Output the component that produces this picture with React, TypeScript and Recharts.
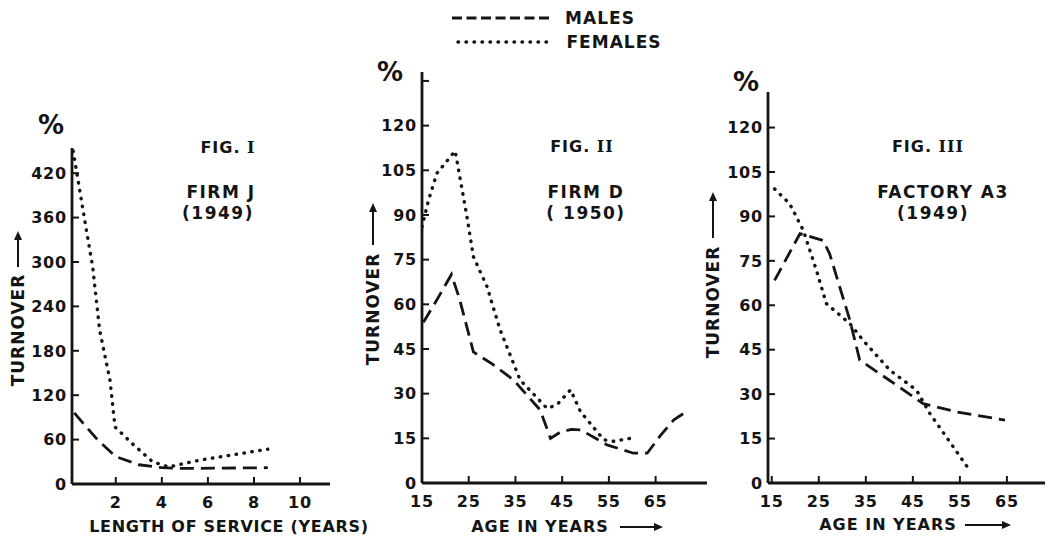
import React from 'react';
import { LineChart, Line, XAxis, YAxis } from 'recharts';

const INK = '#141414';
const FONT = '"DejaVu Sans", sans-serif';
const DASH = '14 7';
const DOTS = '0.5 7.5';

// Fig. I — Firm J (1949), turnover % by length of service (years)
const fig1Males = [
  { x: 0.2, y: 96 }, { x: 1.2, y: 60 }, { x: 2.0, y: 37 }, { x: 3.0, y: 26 },
  { x: 4.0, y: 22 }, { x: 4.8, y: 21 }, { x: 8.6, y: 22 },
];
const fig1Females = [
  { x: 0.15, y: 450 }, { x: 0.6, y: 366 }, { x: 1.0, y: 293 }, { x: 1.3, y: 208 },
  { x: 1.75, y: 140 }, { x: 1.97, y: 77 }, { x: 2.7, y: 55 }, { x: 3.6, y: 30 },
  { x: 4.3, y: 23 }, { x: 5.6, y: 32 }, { x: 7.0, y: 39 }, { x: 8.6, y: 47 },
];
const fig1XTicks = [2, 4, 6, 8, 10];
const fig1YTicks = [0, 60, 120, 180, 240, 300, 360, 420];

// Fig. II — Firm D (1950), turnover % by age
const fig2Males = [
  { x: 15.3, y: 54 }, { x: 18, y: 61 }, { x: 21.3, y: 70 }, { x: 23, y: 62 },
  { x: 26, y: 44 }, { x: 30, y: 40 }, { x: 34.6, y: 34.6 }, { x: 40.3, y: 24.5 },
  { x: 42.5, y: 15 }, { x: 44.5, y: 17 }, { x: 47, y: 18 }, { x: 49, y: 17.8 },
  { x: 54.6, y: 12.8 }, { x: 60.3, y: 10 }, { x: 63.2, y: 10 }, { x: 66.1, y: 16.1 },
  { x: 68.9, y: 21.2 }, { x: 72.1, y: 24.5 },
];
const fig2Females = [
  { x: 15, y: 86 }, { x: 16.4, y: 95 }, { x: 18.2, y: 104 }, { x: 22.1, y: 111.5 },
  { x: 24.6, y: 89.6 }, { x: 26, y: 76 }, { x: 28.9, y: 66 }, { x: 31.7, y: 51.5 },
  { x: 36, y: 34.6 }, { x: 41.8, y: 25 }, { x: 43.9, y: 26.3 }, { x: 46.8, y: 31.3 },
  { x: 48.9, y: 24 }, { x: 53.9, y: 14.5 }, { x: 56, y: 14 }, { x: 59.6, y: 15 },
];

// Fig. III — Factory A3 (1949), turnover % by age
const fig3Males = [
  { x: 15.6, y: 68.4 }, { x: 21, y: 84.2 }, { x: 25.9, y: 81.9 }, { x: 27.3, y: 77.4 },
  { x: 31.6, y: 55 }, { x: 33.7, y: 41.5 }, { x: 40.1, y: 34.6 }, { x: 47.2, y: 26.8 },
  { x: 54.3, y: 24 }, { x: 64.6, y: 21.2 },
];
const fig3Females = [
  { x: 15.6, y: 99.3 }, { x: 18.8, y: 94.3 }, { x: 21.7, y: 85.3 }, { x: 24.5, y: 71.8 },
  { x: 26.6, y: 60.6 }, { x: 31.6, y: 53.8 }, { x: 34.4, y: 48.2 }, { x: 40.1, y: 38.1 },
  { x: 45.8, y: 31.3 }, { x: 48.6, y: 23.5 }, { x: 53.6, y: 12.2 }, { x: 56.8, y: 4.9 },
];

const ageXTicks = [15, 25, 35, 45, 55, 65];
const ageYTicks = [0, 15, 30, 45, 60, 75, 90, 105, 120];

const tickText = { fill: INK, fontFamily: FONT, fontWeight: 700, fontSize: 16, letterSpacing: 0.8 };

const YTick = (props: any) => {
  const { x, y, payload, maxLabel } = props;
  return (
    <g>
      <line x1={x} x2={x + 7} y1={y} y2={y} stroke={INK} strokeWidth={2} />
      {payload.value <= maxLabel && (
        <text x={x - 5} y={y} dy="0.36em" textAnchor="end" style={tickText}>{payload.value}</text>
      )}
    </g>
  );
};

const XTick = (props: any) => {
  const { x, y, payload } = props;
  return (
    <g>
      <line x1={x} x2={x} y1={y} y2={y - 7} stroke={INK} strokeWidth={2} />
      <text x={x} y={y + 18} dy="0.36em" textAnchor="middle" style={tickText}>{payload.value}</text>
    </g>
  );
};

interface PanelProps {
  left: number; width: number; top: number; bottom: number; axisW: number; right: number;
  xDomain: [number, number]; yDomain: [number, number];
  xTicks: number[]; yTicks: number[]; maxLabel: number;
  males: { x: number; y: number }[]; females: { x: number; y: number }[];
}

const Panel = (p: PanelProps) => (
  <div style={{ position: 'absolute', left: p.left, top: 0 }}>
    <LineChart width={p.width} height={536} margin={{ top: p.top, bottom: p.bottom - 30, left: 0, right: p.right }}>
      <XAxis type="number" dataKey="x" domain={p.xDomain} ticks={p.xTicks} interval={0} height={30}
        tickSize={0} tickMargin={0} tickLine={false} axisLine={{ stroke: INK, strokeWidth: 2.8 }}
        tick={(t: any) => <XTick {...t} />} allowDataOverflow />
      <YAxis type="number" dataKey="y" domain={p.yDomain} ticks={p.yTicks} interval={0} width={p.axisW}
        tickSize={0} tickMargin={0} tickLine={false} axisLine={{ stroke: INK, strokeWidth: 2.8 }}
        tick={(t: any) => <YTick {...t} maxLabel={p.maxLabel} />} allowDataOverflow />
      <Line data={p.males} dataKey="y" type="linear" stroke={INK} strokeWidth={2.8}
        strokeDasharray={DASH} dot={false} activeDot={false} isAnimationActive={false} />
      <Line data={p.females} dataKey="y" type="linear" stroke={INK} strokeWidth={3.4}
        strokeDasharray={DOTS} strokeLinecap="round" dot={false} activeDot={false} isAnimationActive={false} />
    </LineChart>
  </div>
);

const Label = ({ x, y, size = 16, rotate = 0, spacing = 1, children }: any) => (
  <div style={{
    position: 'absolute', left: x, top: y, transform: `translate(-50%, -50%) rotate(${rotate}deg)`,
    fontFamily: FONT, fontWeight: 700, fontSize: size, letterSpacing: spacing, color: INK,
    whiteSpace: 'nowrap', lineHeight: 1,
  }}>{children}</div>
);

const Numeral = ({ children }: any) => (
  <span style={{ fontFamily: '"DejaVu Serif", serif', fontWeight: 700 }}>{children}</span>
);

const Arrow = ({ x1, y1, x2, y2 }: { x1: number; y1: number; x2: number; y2: number }) => {
  const a = Math.atan2(y2 - y1, x2 - x1);
  const h = 9, w = 4;
  const bx = x2 - h * Math.cos(a), by = y2 - h * Math.sin(a);
  const px = -Math.sin(a) * w, py = Math.cos(a) * w;
  return (
    <g>
      <line x1={x1} y1={y1} x2={bx} y2={by} stroke={INK} strokeWidth={2} />
      <polygon points={`${x2},${y2} ${bx + px},${by + py} ${bx - px},${by - py}`} fill={INK} />
    </g>
  );
};

export default function App() {
  return (
    <div style={{ position: 'absolute', left: 0, top: 0, width: 1050, height: 536, background: '#fff', overflow: 'hidden' }}>
      <Panel left={0} width={340} top={148} bottom={52} axisW={72} right={10}
        xDomain={[0.1, 11.3]} yDomain={[0, 454]} xTicks={fig1XTicks} yTicks={fig1YTicks} maxLabel={420}
        males={fig1Males} females={fig1Females} />
      <Panel left={340} width={380} top={72} bottom={53} axisW={82} right={13}
        xDomain={[15, 76]} yDomain={[0, 138]} xTicks={ageXTicks} yTicks={[...ageYTicks, 135]} maxLabel={120}
        males={fig2Males} females={fig2Females} />
      <Panel left={690} width={360} top={92} bottom={53} axisW={78} right={5}
        xDomain={[14.2, 73.1]} yDomain={[0, 132]} xTicks={ageXTicks} yTicks={ageYTicks} maxLabel={120}
        males={fig3Males} females={fig3Females} />

      <svg width={1050} height={536} style={{ position: 'absolute', left: 0, top: 0, pointerEvents: 'none' }}>
        <line x1={452} x2={553} y1={18} y2={18} stroke={INK} strokeWidth={2.8} strokeDasharray="10 4.5" />
        <line x1={458} x2={553} y1={42} y2={42} stroke={INK} strokeWidth={3.4} strokeDasharray={DOTS} strokeLinecap="round" />
        <Arrow x1={18} y1={267} x2={18} y2={231} />
        <Arrow x1={373} y1={245} x2={373} y2={203} />
        <Arrow x1={713} y1={238} x2={713} y2={192} />
        <Arrow x1={620} y1={527} x2={663} y2={527} />
        <Arrow x1={965} y1={525} x2={1011} y2={525} />
      </svg>

      <Label x={600} y={18} size={17}>MALES</Label>
      <Label x={614} y={42} size={17}>FEMALES</Label>

      <Label x={51} y={125} size={26} spacing={0}>%</Label>
      <Label x={390} y={72} size={26} spacing={0}>%</Label>
      <Label x={746} y={82} size={26} spacing={0}>%</Label>

      <Label x={18} y={330} size={17} rotate={-90}>TURNOVER</Label>
      <Label x={373} y={309} size={17} rotate={-90}>TURNOVER</Label>
      <Label x={713} y={302} size={17} rotate={-90}>TURNOVER</Label>

      <Label x={228} y={148} size={16}>FIG. <Numeral>I</Numeral></Label>
      <Label x={221} y={192} size={17} spacing={1.5}>FIRM J</Label>
      <Label x={218} y={213} size={17} spacing={1.5}>(1949)</Label>

      <Label x={582} y={147} size={16}>FIG. <Numeral>II</Numeral></Label>
      <Label x={586} y={192} size={17} spacing={1.5}>FIRM D</Label>
      <Label x={586} y={213} size={17} spacing={1.5}>( 1950)</Label>

      <Label x={928} y={147} size={16}>FIG. <Numeral>III</Numeral></Label>
      <Label x={943} y={192} size={17} spacing={1.5}>FACTORY A3</Label>
      <Label x={933} y={213} size={17} spacing={1.5}>(1949)</Label>

      <Label x={229} y={527} size={16} spacing={0.7}>LENGTH OF SERVICE (YEARS)</Label>
      <Label x={540} y={527} size={16} spacing={1}>AGE IN YEARS</Label>
      <Label x={888} y={525} size={16} spacing={1}>AGE IN YEARS</Label>
    </div>
  );
}
